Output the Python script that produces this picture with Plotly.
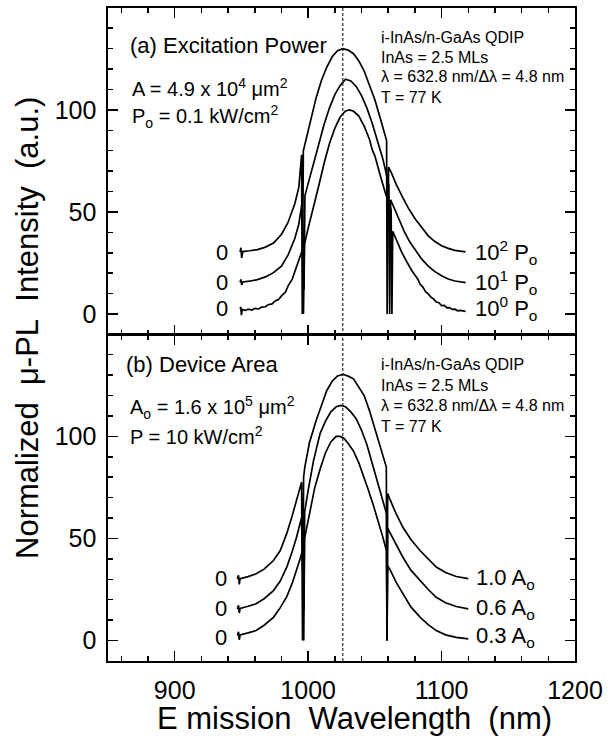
import plotly.graph_objects as go
from plotly.subplots import make_subplots

# ---------------- Panel (a): Excitation power ----------------
a_p2_x = [949, 949.6, 950.2, 951, 956, 962, 968, 974, 980, 985, 990, 993, 995.1, 995.6, 996.4, 998.3,
          1002, 1006, 1010, 1014, 1018, 1022, 1026, 1030, 1034, 1038, 1042, 1046, 1050, 1054, 1057,
          1058.8, 1059.2, 1060.3, 1062.5, 1066, 1070, 1075, 1080, 1085, 1090, 1095, 1100, 1105, 1110, 1118]
a_p2_y = [30.4, 32.5, 27.5, 30.6, 31.0, 31.6, 32.8, 34.8, 39, 45, 54, 62, 78, 0, 80, 85.4,
          96, 106, 114.5, 121, 126, 129, 130, 129.3, 127.5, 124, 119, 112, 105, 96, 89,
          85, 0, 72, 69, 63.5, 58.3, 52, 46.8, 42.3, 38.3, 35.5, 33.5, 32.2, 31.2, 30.5]

a_p1_x = [949, 949.6, 950.2, 951, 956, 962, 968, 974, 980, 985, 990, 993, 995.5, 996.9, 997.6, 1000,
          1004, 1008, 1012, 1016, 1020, 1024, 1028, 1032, 1036, 1040, 1044, 1048, 1052, 1056, 1060.5,
          1061.1, 1061.8, 1064, 1068, 1072, 1076, 1080, 1085, 1090, 1095, 1100, 1105, 1110, 1118]
a_p1_y = [15.6, 17, 14.3, 15.7, 16.1, 16.9, 18.2, 20.3, 23.5, 29, 37, 44, 55, 12, 58, 64,
          74, 84, 93, 101, 107.5, 112, 115, 114.2, 111.5, 107, 101, 93.5, 85, 76, 63,
          0, 56, 52.5, 46, 40.5, 35.5, 31.5, 27, 23.5, 20.8, 18.8, 17.2, 16.2, 15.4]

a_p0_x = [949, 949.5, 950, 950.6, 953, 955, 958, 960, 963, 965, 968, 970, 973, 975, 978, 980, 983,
          985, 988, 990, 994, 996.0, 996.5, 997.2,
          1000, 1004, 1008, 1012, 1016, 1020, 1024, 1028, 1031, 1034, 1038, 1042, 1046, 1048, 1050, 1054,
          1058, 1062.2, 1062.8, 1063.4, 1066, 1070, 1074, 1078, 1082, 1084, 1086, 1088, 1090, 1092,
          1094, 1096, 1098, 1100, 1102, 1104, 1106, 1108, 1110, 1112, 1114, 1118]
a_p0_y = [2.6, 3.5, -0.5, 2.2, 1.8, 2.4, 2.0, 2.8, 2.5, 3.4, 3.6, 4.6, 5.0, 6.3, 7.2, 8.9, 10.8,
          13.8, 17.0, 20.5, 28, 32, 0, 34,
          42, 52, 63, 74, 83.5, 91, 96.5, 99.5, 100, 99.3, 97, 92, 85.5, 80.5, 77.5, 68,
          59, 51, 0, 40.5, 36.5, 30.5, 25.5, 21, 17.3, 14.6, 13.2, 11.0, 9.9, 8.3,
          7.4, 5.9, 5.6, 4.2, 4.3, 3.1, 3.2, 2.3, 2.4, 1.6, 1.8, 1.3]

# ---------------- Panel (b): Device area ----------------
b_a10_x = [947, 947.8, 948.4, 949, 955, 961, 967, 974, 979, 984, 988, 991.3, 995.1, 995.8, 996.6, 997.5,
           1001, 1006, 1010, 1014, 1018, 1022, 1026, 1030, 1034, 1038, 1042, 1046, 1050, 1054, 1058.6,
           1059.1, 1059.6, 1061.1, 1066, 1071, 1077, 1084, 1090, 1096, 1103, 1111, 1120]
b_a10_y = [30.2, 32, 27.5, 30.3, 31.3, 32.7, 35, 39.2, 44, 52.5, 61, 68.6, 77.6, 0, 80, 85,
           97, 107.8, 115.5, 122.5, 127, 129.6, 130.4, 129.5, 128.2, 124.3, 120, 112.5, 104, 95, 85,
           0, 72, 69.5, 62, 55.5, 49.5, 44, 39.8, 36, 33.3, 31.4, 30.3]

b_a06_x = [947, 947.8, 948.4, 949, 955, 961, 967, 974, 979, 984, 988, 991.3, 995, 996.8, 997.4, 998.5,
           1000, 1004, 1009, 1013, 1017, 1021, 1024.5, 1028, 1032, 1036, 1040, 1044, 1048, 1051, 1054,
           1057.4, 1058.8, 1059.1, 1059.6, 1061.1, 1066, 1071, 1077, 1084, 1090, 1096, 1103, 1111, 1120]
b_a06_y = [15.5, 17.3, 13.5, 15.7, 16.8, 18, 20.5, 24.5, 29, 36, 43.5, 50.6, 60, 15, 63, 68,
           73.5, 88, 101.5, 107.5, 112, 114.5, 115.2, 114.5, 112, 108.7, 103, 96, 87, 80, 73,
           65.3, 62, 0, 55, 53.1, 47, 40.8, 34.5, 29.4, 25, 21.2, 18.5, 16.7, 15.5]

b_a03_x = [947, 947.8, 948.4, 949, 955, 961, 967, 974, 979, 984, 988, 991.3, 994.5, 996.3, 996.7, 997.3,
           1001.3, 1005, 1009, 1013, 1017, 1021, 1024, 1027, 1030, 1034, 1038, 1041, 1045, 1049, 1053,
           1056, 1058.7, 1059.1, 1059.6, 1061.1, 1066, 1071, 1077, 1084, 1090, 1096, 1103, 1111, 1120]
b_a03_y = [2.5, 4.3, 0.3, 2.8, 3.8, 4.9, 7.5, 11.4, 16, 21.5, 28, 34.3, 41, 45.7, 0, 50,
           63.7, 75, 84, 92, 97.3, 100, 100, 99, 96.5, 92.8, 87, 81.7, 74, 66, 57.5,
           50.6, 44, 0, 36.5, 35.1, 28.5, 22.9, 16.5, 11.4, 7.8, 4.9, 2.8, 1.6, 0.8]

peak_line_nm = 1026
x_tickvals = [900, 1000, 1100, 1200]
y_tickvals = [0, 50, 100]
a_right_labels = ["10<sup>2</sup> P<sub>o</sub>", "10<sup>1</sup> P<sub>o</sub>", "10<sup>0</sup> P<sub>o</sub>"]
b_right_labels = ["1.0 A<sub>o</sub>", "0.6 A<sub>o</sub>", "0.3 A<sub>o</sub>"]
a_label_levels = [30.4, 15.5, 2.5]
b_label_levels = [30.2, 15.5, 1.6]
info_lines = ["i-InAs/n-GaAs QDIP", "InAs = 2.5 MLs", "λ = 632.8 nm/Δλ = 4.8 nm", "T = 77 K"]

FONT = "Liberation Sans, Arial, Helvetica, sans-serif"
W, H = 608, 740
ML, MR, MT, MB = 108, 33, 8, 79
PW, PH = W - ML - MR, H - MT - MB

fig = make_subplots(rows=2, cols=1, shared_xaxes=True, vertical_spacing=0)

line_style = dict(color="black", width=1.7)
for xs, ys in [(a_p2_x, a_p2_y), (a_p1_x, a_p1_y), (a_p0_x, a_p0_y)]:
    fig.add_trace(go.Scatter(x=xs, y=ys, mode="lines", line=line_style,
                             showlegend=False, hoverinfo="skip"), row=1, col=1)
for xs, ys in [(b_a10_x, b_a10_y), (b_a06_x, b_a06_y), (b_a03_x, b_a03_y)]:
    fig.add_trace(go.Scatter(x=xs, y=ys, mode="lines", line=line_style,
                             showlegend=False, hoverinfo="skip"), row=2, col=1)

xax = dict(range=[850, 1200], tickvals=x_tickvals, ticks="inside", ticklen=10, tickwidth=1.5,
           tickcolor="black", showline=True, linecolor="black", linewidth=1.6, mirror="ticks",
           showgrid=False, zeroline=False, automargin=False,
           minor=dict(dtick=20, tick0=0, ticks="inside", ticklen=5, tickwidth=1.5, tickcolor="black",
                      showgrid=False),
           tickfont=dict(family=FONT, size=25, color="black"), ticklabelstandoff=6)
yax = dict(range=[-10, 149.9], tickvals=y_tickvals, ticks="inside", ticklen=10, tickwidth=1.5,
           tickcolor="black", showline=True, linecolor="black", linewidth=1.6, mirror="ticks",
           showgrid=False, zeroline=False, automargin=False,
           minor=dict(dtick=10, tick0=0, ticks="inside", ticklen=5, tickwidth=1.5, tickcolor="black",
                      showgrid=False),
           tickfont=dict(family=FONT, size=25, color="black"), ticklabelstandoff=5)

fig.update_xaxes(**xax)
fig.update_yaxes(**yax)
fig.update_xaxes(showticklabels=False, row=1, col=1)
fig.update_yaxes(domain=[0.5, 1.0], row=1, col=1)
fig.update_yaxes(domain=[0.0, 0.5], row=2, col=1)

fig.add_shape(type="line", x0=peak_line_nm, x1=peak_line_nm, xref="x", y0=0, y1=1, yref="paper",
              line=dict(color="black", width=1, dash="3px,2px"))


def P(px, py):
    return (px - ML) / PW, (H - MB - py) / PH


def ann(text, px, py, size, xanchor="left", yanchor="middle", angle=0):
    x, y = P(px, py)
    fig.add_annotation(text=text, x=x, y=y, xref="paper", yref="paper", showarrow=False,
                       xanchor=xanchor, yanchor=yanchor, textangle=angle,
                       font=dict(family=FONT, size=size, color="black"))


# panel (a) texts
ann("(a) Excitation Power", 128, 46, 22)
ann("A = 4.9 x 10<sup>4</sup> μm<sup>2</sup>", 130, 88, 20)
ann("P<sub>o</sub> = 0.1 kW/cm<sup>2</sup>", 130, 117, 20)
for i, t in enumerate(info_lines):
    ann(t, 379, 37 + 20 * i, 16)
# panel (b) texts
ann("(b) Device Area", 124, 365, 22)
ann("A<sub>o</sub> = 1.6 x 10<sup>5</sup> μm<sup>2</sup>", 128, 407, 20)
ann("P = 10 kW/cm<sup>2</sup>", 128, 436, 20)
for i, t in enumerate(info_lines):
    ann(t, 379, 365 + 20.5 * i, 16)

# curve labels (data coordinates)
for lvl, lab in zip(a_label_levels, a_right_labels):
    fig.add_annotation(text="0", x=941.5, y=lvl, xref="x", yref="y", showarrow=False,
                       xanchor="right", yanchor="middle", font=dict(family=FONT, size=22, color="black"))
    fig.add_annotation(text=lab, x=1123.5, y=lvl, xref="x", yref="y", showarrow=False,
                       xanchor="left", yanchor="middle", font=dict(family=FONT, size=22, color="black"))
for lvl, lab in zip(b_label_levels, b_right_labels):
    fig.add_annotation(text="0", x=940.5, y=lvl, xref="x2", yref="y2", showarrow=False,
                       xanchor="right", yanchor="middle", font=dict(family=FONT, size=22, color="black"))
    fig.add_annotation(text=lab, x=1124.5, y=lvl, xref="x2", yref="y2", showarrow=False,
                       xanchor="left", yanchor="middle", font=dict(family=FONT, size=22, color="black"))

# axis titles
ann("Normalized\u00a0\u00a0μ-PL\u00a0\u00a0Intensity\u00a0\u00a0(a.u.)", 27, 328, 31,
    xanchor="center", angle=-90)
ann("E\u00a0mission\u00a0\u00a0Wavelength\u00a0\u00a0(nm)", 354, 718, 31, xanchor="center")

fig.update_layout(width=W, height=H, margin=dict(l=ML, r=MR, t=MT, b=MB, autoexpand=False),
                  paper_bgcolor="white", plot_bgcolor="white",
                  font=dict(family=FONT, color="black"))

fig.write_html("out.html", config={"displayModeBar": False, "staticPlot": True},
               post_script="document.body.style.margin='0';document.body.style.overflow='hidden';")
